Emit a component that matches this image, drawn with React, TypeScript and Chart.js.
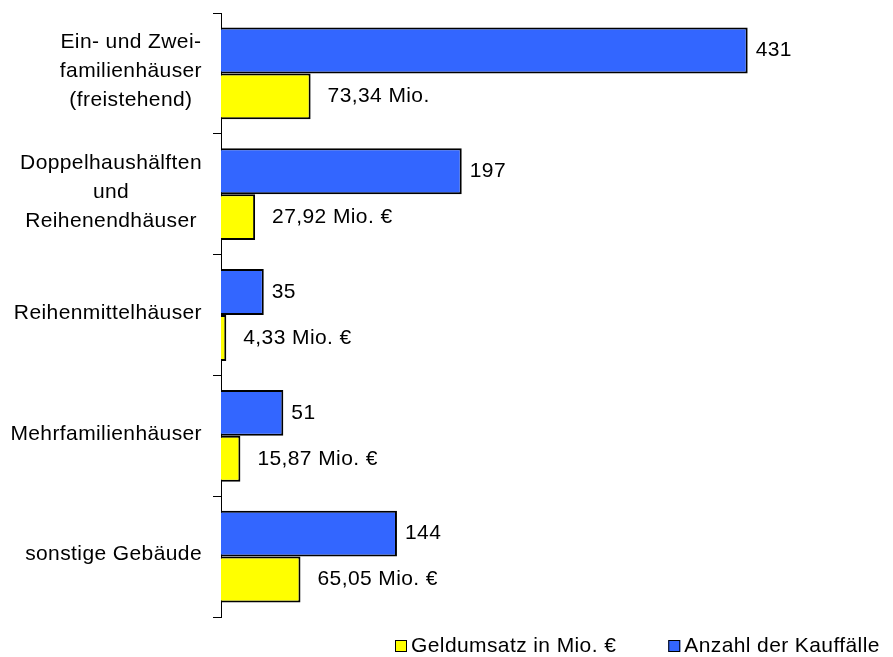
import React, { useEffect, useRef } from 'react';
import { Chart, registerables } from 'chart.js';

Chart.register(...registerables);

// ---- data ----
const categories: string[][] = [
  ['Ein- und Zwei-', 'familienhäuser', '(freistehend)'],
  ['Doppelhaushälften', 'und', 'Reihenendhäuser'],
  ['Reihenmittelhäuser'],
  ['Mehrfamilienhäuser'],
  ['sonstige Gebäude'],
];
const kauffaelle = [431, 197, 35, 51, 144];
const geldumsatz = [73.34, 27.92, 4.33, 15.87, 65.05];
const kauffaelleLabels = ['431', '197', '35', '51', '144'];
const geldumsatzLabels = ['73,34 Mio.', '27,92 Mio. €', '4,33 Mio. €', '15,87 Mio. €', '65,05 Mio. €'];
const seriesNames = ['Anzahl der Kauffälle', 'Geldumsatz in Mio. €'];
const xMax = 500;

const FONT = '"Liberation Sans", Arial, sans-serif';
const FS = 21;
const LINE_H = 29;

const customPlugin = {
  id: 'customText',
  afterDraw(chart: any) {
    const ctx = chart.ctx as any;
    ctx.save();
    ctx.font = `${FS}px ${FONT}`;
    try { ctx.letterSpacing = '0.4px'; } catch (e) {}
    ctx.fillStyle = '#000';
    ctx.textBaseline = 'middle';

    // value labels
    const texts = [kauffaelleLabels, geldumsatzLabels];
    const offsets = [8, 17];
    ctx.textAlign = 'left';
    chart.data.datasets.forEach((_ds: any, di: number) => {
      const meta = chart.getDatasetMeta(di);
      meta.data.forEach((bar: any, i: number) => {
        ctx.fillText(texts[di][i], bar.x + offsets[di], bar.y);
      });
    });

    // category labels: block right aligned, lines centred
    const ys = chart.scales.y;
    const right = ys.right - 19;
    ctx.textAlign = 'center';
    categories.forEach((lines, i) => {
      const cy = ys.getPixelForValue(i) - 2;
      const w = Math.max(...lines.map((l) => ctx.measureText(l).width));
      const cx = right - w / 2;
      lines.forEach((l, j) => {
        ctx.fillText(l, cx, cy + (j - (lines.length - 1) / 2) * LINE_H);
      });
    });

    // legend
    const order = [1, 0];
    let x = 395;
    const cyL = 646;
    ctx.textAlign = 'left';
    order.forEach((di) => {
      const ds = chart.data.datasets[di];
      ctx.fillStyle = ds.backgroundColor;
      ctx.fillRect(x, cyL - 6, 12, 12);
      ctx.strokeStyle = '#000';
      ctx.lineWidth = 1;
      ctx.strokeRect(x + 0.5, cyL - 5.5, 11, 11);
      ctx.fillStyle = '#000';
      ctx.fillText(ds.label, x + 16, cyL);
      x += 16 + ctx.measureText(ds.label).width + 52;
    });
    ctx.restore();
  },
};

export default function App() {
  const ref = useRef<HTMLCanvasElement | null>(null);
  useEffect(() => {
    if (!ref.current) return;
    const chart = new Chart(ref.current, {
      type: 'bar',
      data: {
        labels: categories,
        datasets: [
          {
            label: seriesNames[0],
            data: kauffaelle,
            backgroundColor: '#3366FF',
            borderColor: '#000000',
            borderWidth: 2,
            categoryPercentage: 0.76,
            barPercentage: 1,
          },
          {
            label: seriesNames[1],
            data: geldumsatz,
            backgroundColor: '#FFFF00',
            borderColor: '#000000',
            borderWidth: 2,
            categoryPercentage: 0.76,
            barPercentage: 1,
          },
        ],
      },
      options: {
        indexAxis: 'y',
        animation: false,
        responsive: false,
        devicePixelRatio: 1,
        layout: { padding: { top: 13, bottom: 40, left: 0, right: 61 } },
        plugins: { legend: { display: false }, tooltip: { enabled: false } },
        scales: {
          x: { display: false, min: 0, max: xMax },
          y: {
            position: 'left',
            grid: {
              display: true,
              drawOnChartArea: false,
              drawTicks: true,
              tickLength: 8,
              color: '#000000',
              offset: true,
              lineWidth: 1,
            },
            border: { display: true, color: '#000000', width: 1 },
            ticks: { display: false },
            afterFit: (s: any) => {
              s.width = 221;
            },
          },
        },
      },
      plugins: [customPlugin],
    } as any);
    return () => chart.destroy();
  }, []);
  return (
    <div style={{ position: 'fixed', left: 0, top: 0, width: 893, height: 657, background: '#fff' }}>
      <canvas ref={ref} width={893} height={657} style={{ display: 'block' }} />
    </div>
  );
}
